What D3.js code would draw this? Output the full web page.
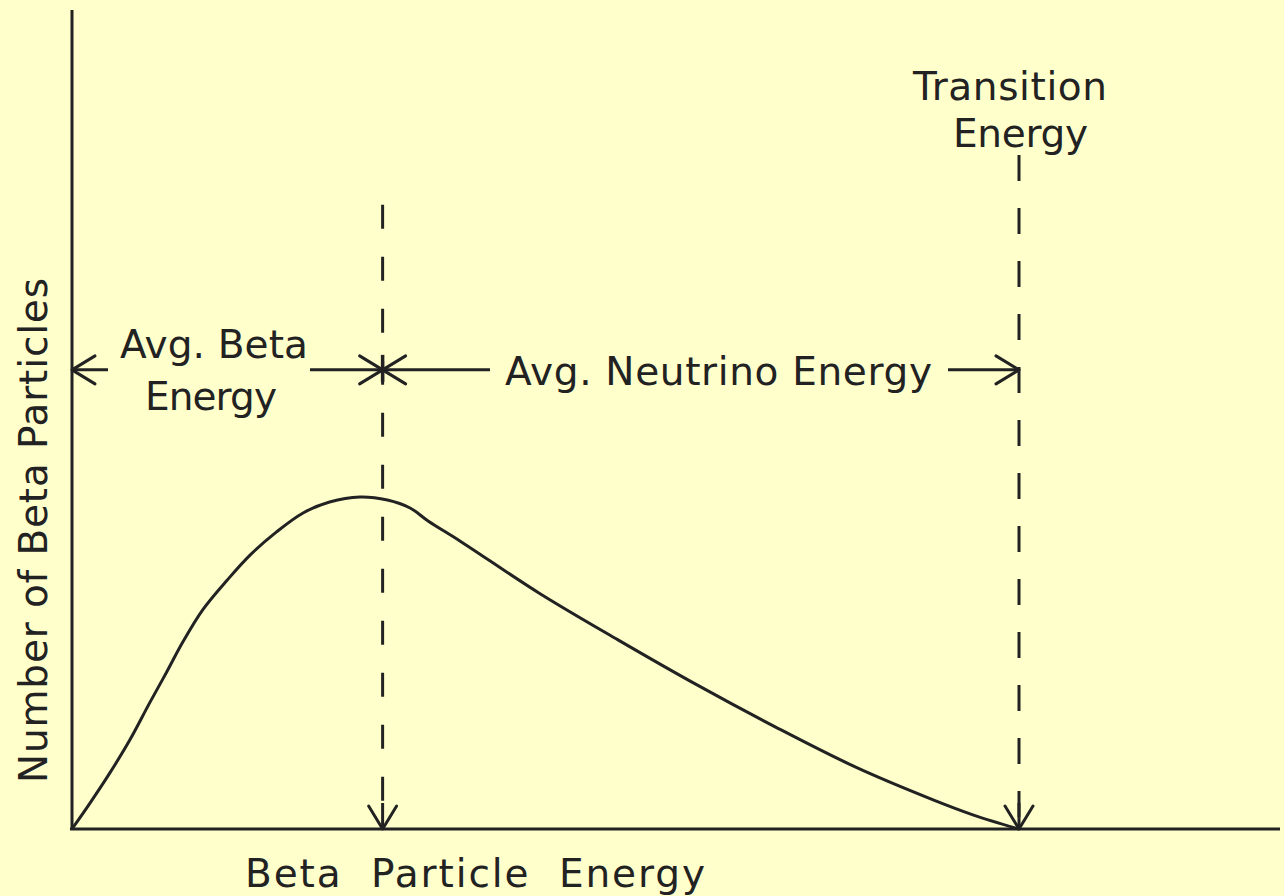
<!DOCTYPE html>
<html>
<head>
<meta charset="utf-8">
<script src="https://cdn.jsdelivr.net/npm/d3@7"></script>
<style>
  html, body { margin: 0; padding: 0; background: #ffffcc; }
  svg { display: block; }
  text { font-family: "DejaVu Sans", sans-serif; fill: #222; }
</style>
</head>
<body>
<script>
// beta spectrum, energy relative to the transition energy, counts relative to the peak
var energy = [0, 0.019, 0.040, 0.061, 0.082, 0.100, 0.117, 0.138, 0.164, 0.188,
              0.216, 0.244, 0.272, 0.304, 0.333, 0.357, 0.376, 0.410, 0.493, 0.577,
              0.660, 0.743, 0.827, 0.910, 0.952, 1.0];
var counts = [0, 0.078, 0.169, 0.268, 0.380, 0.473, 0.563, 0.660, 0.750, 0.825,
              0.895, 0.952, 0.985, 1.0, 0.991, 0.967, 0.928, 0.867, 0.711, 0.569,
              0.434, 0.307, 0.187, 0.087, 0.042, 0];

// marker lines: average beta energy and transition energy
var markerEnergy = [0.328, 1.0];
var markerTop = [1.88, 2.03];
var arrowLevel = 1.383;

var xLabel = "Beta  Particle  Energy";
var yLabel = "Number of Beta Particles";

var W = 1284, H = 896;
var ink = "#222";

var svg = d3.select("body").append("svg")
    .attr("width", W)
    .attr("height", H);

svg.append("rect")
    .attr("width", W)
    .attr("height", H)
    .attr("fill", "#ffffcc");

// set the ranges
var xScale = d3.scaleLinear()
    .domain([0, 1.2756])
    .range([72, 1280]);
var yScale = d3.scaleLinear()
    .domain([0, 2.467])
    .range([829, 10]);

// axes (plain lines, no ticks)
svg.append("line")
    .attr("x1", xScale(0)).attr("x2", xScale(0))
    .attr("y1", yScale(0) + 1).attr("y2", yScale(2.467))
    .attr("stroke", ink).attr("stroke-width", 3);
svg.append("line")
    .attr("x1", xScale(0) - 2).attr("x2", xScale(1.2756))
    .attr("y1", yScale(0)).attr("y2", yScale(0))
    .attr("stroke", ink).attr("stroke-width", 3.2);

// the spectrum
var data = energy.map(function (d, i) { return { e: d, n: counts[i] }; });
var line = d3.line()
    .x(function (d) { return xScale(d.e); })
    .y(function (d) { return yScale(d.n); })
    .curve(d3.curveCatmullRom.alpha(0.5));

svg.append("path")
    .datum(data)
    .attr("d", line)
    .attr("fill", "none")
    .attr("stroke", ink)
    .attr("stroke-width", 3);

// chevron arrow head with tip at (x, y); dir = "left" | "right" | "down"
function arrowHead(x, y, dir) {
    var len = 23, half = 14, p;
    if (dir == "down") p = [[x - half, y - len], [x, y], [x + half, y - len]];
    else if (dir == "left") p = [[x + len, y - half], [x, y], [x + len, y + half]];
    else p = [[x - len, y - half], [x, y], [x - len, y + half]];
    svg.append("path")
        .attr("d", d3.line()(p))
        .attr("fill", "none")
        .attr("stroke", ink)
        .attr("stroke-width", 3)
        .attr("stroke-linecap", "round")
        .attr("stroke-linejoin", "round");
}

// dashed marker lines down to the axis
var dashes = ["24 28", "26 27"];
markerEnergy.forEach(function (e, i) {
    svg.append("line")
        .attr("x1", xScale(e)).attr("x2", xScale(e))
        .attr("y1", yScale(markerTop[i])).attr("y2", yScale(0))
        .attr("stroke", ink)
        .attr("stroke-width", 3)
        .attr("stroke-dasharray", dashes[i]);
    svg.append("line")
        .attr("x1", xScale(e)).attr("x2", xScale(e))
        .attr("y1", yScale(0) - 26).attr("y2", yScale(0))
        .attr("stroke", ink).attr("stroke-width", 3);
    arrowHead(xScale(e), yScale(0), "down");
});

// horizontal energy arrows
var ay = yScale(arrowLevel);
var segs = [[xScale(0), xScale(0) + 36], [310, xScale(markerEnergy[0])],
            [xScale(markerEnergy[0]), 490], [948, xScale(markerEnergy[1])]];
segs.forEach(function (s) {
    svg.append("line")
        .attr("x1", s[0]).attr("x2", s[1])
        .attr("y1", ay).attr("y2", ay)
        .attr("stroke", ink).attr("stroke-width", 3);
});
svg.append("line")
    .attr("x1", xScale(markerEnergy[0])).attr("x2", xScale(markerEnergy[0]))
    .attr("y1", ay - 15).attr("y2", ay + 12)
    .attr("stroke", ink).attr("stroke-width", 3.5);
arrowHead(xScale(0), ay, "left");
arrowHead(xScale(markerEnergy[0]), ay, "right");
arrowHead(xScale(markerEnergy[0]), ay, "left");
arrowHead(xScale(markerEnergy[1]), ay, "right");

// labels
var labels = [
    { t: "Avg. Beta", x: 120, y: 358, w: 188 },
    { t: "Energy", x: 145, y: 410, w: 132 },
    { t: "Avg. Neutrino Energy", x: 505, y: 385, w: 427 },
    { t: "Transition", x: 913, y: 100, w: 194 },
    { t: "Energy", x: 953, y: 147, w: 135 },
    { t: xLabel, x: 245, y: 887, w: 460 }
];
svg.selectAll(".label")
    .data(labels)
    .enter()
    .append("text")
    .attr("class", "label")
    .attr("x", function (d) { return d.x; })
    .attr("y", function (d) { return d.y; })
    .attr("textLength", function (d) { return d.w; })
    .attr("lengthAdjust", "spacing")
    .style("font-size", "39px")
    .style("white-space", "pre")
    .text(function (d) { return d.t; });

svg.append("text")
    .attr("transform", "translate(47,783) rotate(-90)")
    .attr("textLength", 505)
    .attr("lengthAdjust", "spacing")
    .style("font-size", "39px")
    .text(yLabel);
</script>
</body>
</html>
